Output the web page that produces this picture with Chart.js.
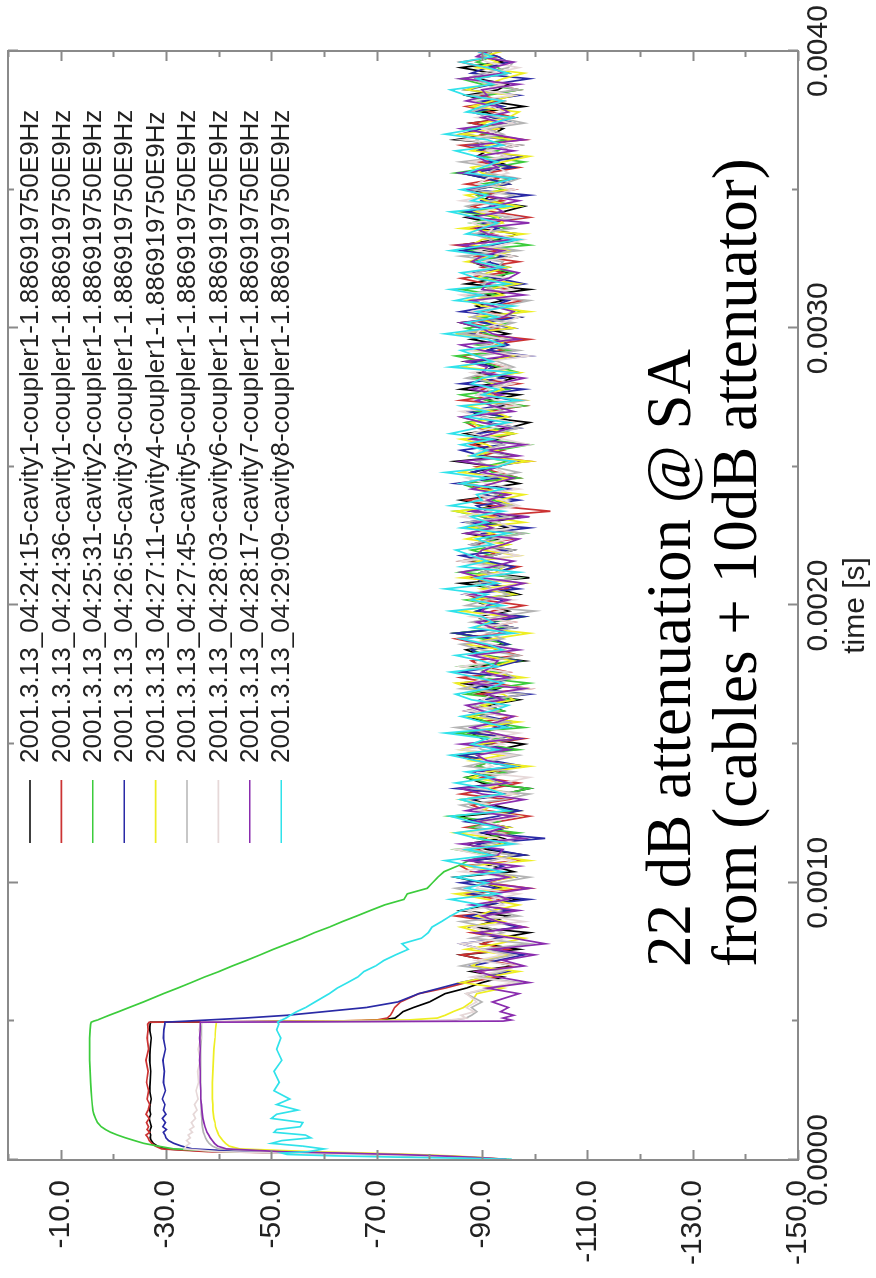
<!DOCTYPE html>
<html>
<head>
<meta charset="utf-8">
<title>Coupler signals, 2001.3.13</title>
<script src="https://cdn.jsdelivr.net/npm/chart.js@4.4.1/dist/chart.umd.min.js"></script>
<style>
  html, body { margin: 0; padding: 0; background: #fff; overflow: hidden; }
  /* the plot is laid out landscape and turned a quarter to the left */
  #wrap {
    position: absolute; left: 0; top: 0;
    width: 1278px; height: 876px;
    transform-origin: 0 0;
    transform: translateY(1278px) rotate(-90deg);
  }
</style>
</head>
<body>
<div id="wrap"><canvas id="scope" width="1278" height="876"></canvas></div>
<script>
// sample times in microseconds: fine steps around the RF pulse, then every 20 us
const timesUs = [
  0, 3, 6, 10, 15, 20, 25, 30,
  40, 50, 60, 70, 80, 90, 100, 110, 120,
  135, 150, 165, 180, 200, 220, 250, 280,
  320, 360, 400, 440, 470, 490,
  497, 501, 505, 512, 522, 535, 550, 570,
  600, 620, 640, 660, 680, 700, 720, 740, 760, 780,
  800, 820, 840, 860, 880, 900, 920, 940, 960, 980,
  1000, 1020, 1040, 1060, 1080, 1100, 1120, 1140, 1160, 1180,
  1200, 1220, 1240, 1260, 1280, 1300, 1320, 1340, 1360, 1380,
  1400, 1420, 1440, 1460, 1480, 1500, 1520, 1540, 1560, 1580,
  1600, 1620, 1640, 1660, 1680, 1700, 1720, 1740, 1760, 1780,
  1800, 1820, 1840, 1860, 1880, 1900, 1920, 1940, 1960, 1980,
  2000, 2020, 2040, 2060, 2080, 2100, 2120, 2140, 2160, 2180,
  2200, 2220, 2240, 2260, 2280, 2300, 2320, 2340, 2360, 2380,
  2400, 2420, 2440, 2460, 2480, 2500, 2520, 2540, 2560, 2580,
  2600, 2620, 2640, 2660, 2680, 2700, 2720, 2740, 2760, 2780,
  2800, 2820, 2840, 2860, 2880, 2900, 2920, 2940, 2960, 2980,
  3000, 3020, 3040, 3060, 3080, 3100, 3120, 3140, 3160, 3180,
  3200, 3220, 3240, 3260, 3280, 3300, 3320, 3340, 3360, 3380,
  3400, 3420, 3440, 3460, 3480, 3500, 3520, 3540, 3560, 3580,
  3600, 3620, 3640, 3660, 3680, 3700, 3720, 3740, 3760, 3780,
  3800, 3820, 3840, 3860, 3880, 3900, 3920, 3940, 3960, 3980,
  4000
];

const traceLabels = [
  "2001.3.13_04:24:15-cavity1-coupler1-1.886919750E9Hz",
  "2001.3.13_04:24:36-cavity1-coupler1-1.886919750E9Hz",
  "2001.3.13_04:25:31-cavity2-coupler1-1.886919750E9Hz",
  "2001.3.13_04:26:55-cavity3-coupler1-1.886919750E9Hz",
  "2001.3.13_04:27:11-cavity4-coupler1-1.886919750E9Hz",
  "2001.3.13_04:27:45-cavity5-coupler1-1.886919750E9Hz",
  "2001.3.13_04:28:03-cavity6-coupler1-1.886919750E9Hz",
  "2001.3.13_04:28:17-cavity7-coupler1-1.886919750E9Hz",
  "2001.3.13_04:29:09-cavity8-coupler1-1.886919750E9Hz"
];

// signal level in dB, one value per entry of timesUs
const cav1aDb = [
  -94, -93, -90, -86, -80, -71, -58, -40,
  -30, -28.4, -27.6, -27.2, -27, -27.1, -26.9, -27, -27.2,
  -27, -26.8, -27.1, -26.9, -27, -27.2, -26.9, -27,
  -27.1, -26.9, -27, -27.2, -26.9, -27,
  -27.1, -66, -71, -73.5, -74.2, -75, -77, -80,
  -83, -87, -90, -94, -88, -96, -91, -86, -97, -90,
  -93, -99, -88, -92, -95, -86, -91, -97, -89, -94,
  -90, -85, -96, -92, -88, -98, -91, -87, -94, -90,
  -95, -89, -86, -97, -92, -88, -94, -99, -90, -87,
  -92, -96, -89, -85, -93, -98, -90, -88, -95, -91,
  -87, -94, -91, -97, -89, -93, -86, -96, -92, -88,
  -98, -90, -87, -94, -92, -85, -96, -91, -89, -95,
  -91, -88, -97, -93, -86, -99, -90, -94, -88, -92,
  -96, -89, -93, -87, -95, -91, -98, -88, -92, -86,
  -94, -90, -97, -92, -88, -93, -85, -96, -91, -89,
  -93, -87, -95, -99, -90, -88, -94, -91, -97, -86,
  -92, -96, -89, -93, -87, -98, -91, -94, -88, -95,
  -90, -86, -97, -92, -89, -94, -91, -99, -87, -93,
  -95, -91, -88, -96, -90, -86, -93, -97, -89, -92,
  -87, -94, -98, -90, -92, -88, -95, -91, -86, -96,
  -93, -89, -91, -97, -85, -92, -94, -88, -96, -90,
  -98, -91, -87, -93, -95, -89, -92, -86, -94, -90,
  -92
];
const cav1bDb = [
  -93, -92.5, -89, -85, -78, -70, -57, -38,
  -29.2, -28, -27.3, -26.8, -26.6, -26.2, -26.9, -26.4, -26.7,
  -26.3, -26.8, -26.2, -26.6, -26.9, -26.4, -26.7, -26.3,
  -26.6, -26.2, -26.7, -26.4, -26.6, -26.5,
  -26.8, -62, -70, -72, -72.6, -73, -73.4, -74.5,
  -78, -83, -87, -93, -89, -97, -91, -86, -95, -90,
  -94, -88, -98, -92, -85, -96, -90, -93, -87, -99,
  -91, -95, -88, -86, -97, -92, -89, -94, -90, -96,
  -87, -93, -99, -91, -88, -95, -86, -92, -97, -90,
  -94, -89, -92, -85, -96, -91, -98, -88, -93, -90,
  -96, -87, -91, -94, -89, -99, -92, -86, -95, -90,
  -88, -97, -93, -90, -85, -94, -91, -96, -89, -92,
  -98, -90, -87, -95, -92, -88, -93, -97, -86, -91,
  -94, -89, -96, -91, -88, -93, -90, -103, -92, -87,
  -95, -91, -86, -97, -93, -89, -99, -90, -94, -88,
  -92, -96, -89, -87, -94, -91, -98, -86, -93, -90,
  -97, -88, -92, -95, -90, -86, -94, -91, -99, -89,
  -93, -87, -96, -90, -92, -98, -88, -95, -91, -86,
  -94, -90, -97, -89, -93, -85, -96, -92, -88, -91,
  -99, -92, -88, -94, -90, -96, -87, -93, -91, -97,
  -89, -95, -91, -86, -98, -90, -93, -88, -96, -92,
  -87, -94, -90, -97, -92, -89, -95, -91, -86, -93,
  -90
];
const cav2Db = [
  -93.5, -92, -88, -84, -78, -70, -58, -42,
  -31.5, -28.5, -25.8, -24, -22.3, -20.8, -19.5, -18.5, -17.7,
  -17, -16.6, -16.3, -16.1, -16, -15.9, -15.8, -15.7,
  -15.6, -15.5, -15.5, -15.5, -15.6, -15.7,
  -15.8, -16.3, -17, -17.9, -19.2, -21, -23, -25.7,
  -29.5, -32.2, -34.8, -37.3, -40.1, -42.6, -45.3, -47.9, -50.4, -53.1,
  -55.8, -58.2, -61, -63.5, -66.2, -68.8, -71.5, -75.2, -75.8, -79.6,
  -80.6, -81.6, -82.8, -85.3, -87.5, -91, -85, -95, -89, -97,
  -88, -93, -84, -96, -90, -86, -94, -99, -91, -87,
  -95, -89, -92, -86, -97, -90, -93, -85, -98, -91,
  -88, -94, -90, -96, -87, -92, -99, -89, -93, -86,
  -97, -91, -88, -95, -90, -85, -94, -92, -98, -89,
  -93, -87, -96, -91, -89, -97, -86, -94, -90, -92,
  -88, -95, -91, -98, -87, -93, -90, -85, -96, -92,
  -94, -89, -86, -97, -92, -90, -95, -88, -93, -99,
  -90, -96, -92, -87, -94, -89, -98, -91, -86, -95,
  -92, -88, -97, -93, -90, -85, -96, -89, -94, -91,
  -87, -95, -90, -98, -92, -88, -93, -86, -97, -90,
  -96, -91, -89, -94, -87, -99, -92, -90, -95, -88,
  -93, -86, -97, -91, -89, -94, -90, -96, -85, -92,
  -98, -90, -93, -88, -95, -91, -87, -96, -92, -89,
  -94, -88, -91, -97, -90, -86, -95, -93, -89, -92,
  -91
];
const cav3Db = [
  -94.5, -93.5, -91, -87, -81, -73, -61, -45,
  -35, -33, -31.5, -30.5, -30, -29.8, -29.5, -30.1, -29.4,
  -29.9, -29.3, -30, -29.5, -29.8, -29.3, -29.9, -29.5,
  -29.7, -29.4, -29.9, -29.5, -29.6, -29.8,
  -29.8, -34, -38, -45, -53, -60, -68, -74,
  -78, -82, -86, -91, -95, -88, -93, -98, -90, -86,
  -94, -89, -97, -92, -87, -95, -90, -99, -88, -93,
  -86, -96, -91, -94, -88, -98, -92, -89, -102, -90,
  -95, -87, -93, -97, -90, -88, -96, -85, -94, -91,
  -89, -98, -92, -86, -95, -90, -97, -88, -93, -96,
  -91, -87, -94, -90, -99, -88, -92, -96, -86, -93,
  -97, -90, -88, -95, -92, -85, -96, -91, -98, -89,
  -92, -94, -87, -97, -90, -89, -93, -96, -91, -86,
  -95, -88, -92, -90, -99, -87, -94, -91, -89, -97,
  -90, -96, -85, -93, -88, -92, -98, -90, -86, -94,
  -92, -89, -97, -91, -95, -87, -93, -96, -90, -98,
  -86, -94, -90, -92, -88, -99, -91, -95, -93, -87,
  -96, -90, -97, -86, -92, -95, -89, -91, -98, -93,
  -88, -95, -91, -94, -86, -92, -97, -89, -93, -90,
  -97, -87, -92, -90, -99, -88, -95, -91, -86, -96,
  -91, -98, -89, -93, -95, -86, -90, -96, -92, -88,
  -94, -90, -97, -87, -92, -99, -88, -91, -95, -93,
  -89
];
const cav4Db = [
  -95, -94, -92, -89, -84, -77, -68, -58,
  -44, -42, -41.3, -40.8, -40.4, -40, -39.8, -39.6, -39.4,
  -39.3, -39.1, -39, -38.9, -38.9, -38.8, -38.8, -38.8,
  -38.9, -39, -39.1, -39.3, -39.4, -39.5,
  -39.6, -60, -76, -81.5, -83, -84.5, -86.5, -88,
  -89, -94, -86, -91, -97, -88, -90, -95, -87, -93,
  -98, -90, -86, -94, -89, -92, -97, -91, -85, -95,
  -90, -96, -92, -87, -99, -91, -88, -94, -93, -85,
  -95, -89, -97, -90, -92, -86, -96, -91, -94, -88,
  -91, -99, -88, -94, -86, -90, -96, -92, -89, -97,
  -87, -93, -90, -96, -94, -88, -85, -98, -91, -92,
  -96, -90, -94, -87, -92, -99, -89, -91, -95, -86,
  -92, -88, -96, -90, -98, -86, -93, -94, -89, -97,
  -90, -95, -87, -92, -88, -98, -91, -85, -96, -93,
  -98, -89, -92, -95, -86, -90, -99, -88, -93, -91,
  -86, -96, -90, -88, -95, -92, -87, -98, -91, -94,
  -92, -90, -97, -86, -91, -96, -89, -93, -95, -85,
  -96, -92, -88, -99, -90, -87, -94, -91, -97, -89,
  -91, -95, -87, -92, -96, -88, -90, -98, -86, -94,
  -93, -89, -97, -91, -87, -95, -92, -96, -90, -88,
  -94, -99, -88, -91, -96, -86, -93, -90, -95, -97,
  -88, -92, -96, -87, -91, -94, -98, -89, -93, -90,
  -94
];
const cav5Db = [
  -94, -93, -90, -86, -80, -72, -62, -50,
  -40, -38.8, -38.2, -37.8, -37.5, -37.3, -37.1, -37, -36.9,
  -36.8, -36.8, -36.7, -36.7, -36.7, -36.6, -36.6, -36.6,
  -36.6, -36.6, -36.6, -36.7, -36.7, -36.7,
  -36.8, -80, -85, -87, -88, -89, -88, -90,
  -87, -92, -97, -89, -94, -86, -91, -96, -90, -99,
  -88, -94, -91, -86, -97, -92, -89, -95, -90, -85,
  -93, -99, -90, -88, -92, -96, -87, -91, -97, -93,
  -89, -92, -95, -90, -86, -94, -99, -88, -93, -91,
  -96, -87, -92, -97, -90, -88, -94, -92, -85, -95,
  -90, -93, -88, -92, -98, -86, -91, -96, -94, -89,
  -92, -97, -90, -86, -94, -91, -96, -88, -93, -100,
  -87, -91, -95, -92, -89, -97, -90, -94, -86, -92,
  -96, -88, -92, -98, -90, -87, -95, -91, -96, -89,
  -93, -94, -86, -91, -97, -92, -89, -95, -90, -94,
  -88, -92, -97, -90, -86, -94, -92, -98, -89, -91,
  -94, -87, -91, -96, -93, -89, -97, -90, -95, -86,
  -92, -96, -88, -91, -94, -99, -87, -92, -90, -95,
  -89, -93, -94, -86, -97, -90, -92, -88, -96, -91,
  -95, -90, -87, -92, -96, -88, -94, -97, -91, -93,
  -86, -95, -92, -90, -89, -94, -91, -98, -93, -88,
  -91, -94, -88, -97, -92, -87, -90, -95, -96, -90,
  -92
];
const cav6Db = [
  -93.5, -92, -89, -84, -76, -66, -52, -40,
  -33.5, -33.8, -34.5, -33.9, -34.6, -34.2, -35, -34.5, -35.3,
  -34.8, -35.6, -35.2, -35.9, -35.4, -36.1, -35.7, -36.2,
  -36, -36.5, -36.1, -36.6, -36.3, -36.6,
  -36.7, -78, -84, -87, -86, -88.5, -87, -89,
  -87, -91, -96, -88, -93, -97, -89, -94, -90, -86,
  -95, -92, -88, -98, -91, -87, -94, -92, -97, -89,
  -90, -95, -86, -92, -96, -90, -85, -97, -93, -88,
  -94, -91, -97, -89, -92, -86, -96, -90, -94, -99,
  -88, -92, -90, -96, -86, -94, -91, -97, -89, -93,
  -96, -87, -94, -90, -92, -99, -88, -91, -95, -86,
  -93, -89, -97, -92, -86, -95, -90, -96, -88, -94,
  -90, -96, -87, -92, -98, -89, -94, -91, -86, -97,
  -92, -90, -95, -88, -96, -93, -86, -91, -97, -94,
  -89, -97, -91, -87, -94, -92, -96, -88, -90, -99,
  -94, -88, -92, -96, -90, -86, -97, -93, -89, -91,
  -96, -92, -88, -95, -91, -99, -87, -92, -94, -89,
  -90, -94, -97, -88, -93, -90, -86, -96, -92, -95,
  -87, -92, -90, -96, -89, -94, -98, -91, -92, -88,
  -97, -90, -94, -86, -92, -96, -89, -91, -95, -93,
  -88, -95, -91, -97, -86, -93, -90, -96, -89, -94,
  -92, -88, -96, -90, -94, -87, -92, -97, -91, -89,
  -90
];
const cav7Db = [
  -94.5, -94, -92, -88, -82, -74, -63, -52,
  -41.5, -39.8, -39.2, -38.8, -38.4, -38.1, -37.8, -37.6, -37.4,
  -37.2, -37, -36.9, -36.8, -36.7, -36.6, -36.6, -36.5,
  -36.5, -36.4, -36.5, -36.4, -36.5, -36.5,
  -36.5, -94, -95.5, -94, -96, -93.5, -95, -92,
  -97, -91, -99, -93, -89, -98, -94, -100, -92, -102,
  -96, -89, -98, -93, -90, -97, -88, -95, -92, -99,
  -90, -95, -89, -97, -87, -93, -94, -86, -98, -91,
  -94, -89, -96, -87, -92, -98, -90, -86, -95, -91,
  -88, -96, -91, -89, -95, -86, -97, -92, -88, -93,
  -96, -90, -87, -94, -91, -98, -88, -95, -90, -92,
  -93, -88, -97, -90, -86, -95, -92, -89, -96, -90,
  -91, -95, -88, -93, -98, -90, -86, -92, -96, -89,
  -90, -94, -97, -87, -92, -89, -99, -88, -94, -91,
  -95, -88, -92, -96, -90, -93, -86, -97, -91, -98,
  -88, -92, -95, -90, -86, -96, -92, -89, -94, -88,
  -93, -98, -90, -91, -87, -95, -90, -86, -97, -92,
  -90, -86, -94, -96, -92, -88, -98, -90, -91, -95,
  -97, -92, -88, -90, -94, -86, -96, -91, -89, -99,
  -88, -94, -92, -97, -90, -87, -92, -96, -86, -93,
  -91, -89, -96, -88, -98, -92, -86, -94, -90, -95,
  -93, -87, -91, -90, -97, -86, -94, -92, -96, -89,
  -91
];
const cav8Db = [
  -95.5, -94, -88, -75, -62, -53, -52, -57,
  -60, -56, -50, -52, -57.5, -56.5, -50.5, -51, -55.5,
  -56, -50, -51, -55, -51, -53.5, -50.5, -51.5,
  -50.5, -52, -51, -51.8, -51, -51.4,
  -51.2, -51.5, -52, -52.8, -53.6, -54.8, -56.5, -58.3,
  -61, -62.5, -64.5, -66.4, -67.6, -69.8, -71.4, -73.6, -76, -74.8,
  -78.5, -79.8, -80.5, -82.3, -84, -86, -90, -84, -93, -87,
  -91, -85, -94, -88, -83, -92, -87, -96, -89, -85,
  -93, -88, -84, -95, -90, -86, -94, -91, -85, -92,
  -87, -96, -89, -84, -93, -88, -91, -83, -95, -90,
  -86, -92, -95, -88, -85, -91, -94, -89, -84, -93,
  -90, -85, -94, -91, -86, -96, -88, -92, -90, -84,
  -94, -88, -91, -83, -93, -89, -97, -86, -91, -88,
  -85, -92, -89, -95, -86, -91, -88, -94, -84, -90,
  -89, -94, -86, -91, -83, -93, -96, -88, -91, -86,
  -92, -84, -89, -95, -87, -91, -86, -97, -90, -93,
  -88, -90, -96, -84, -92, -89, -86, -94, -91, -83,
  -91, -87, -93, -89, -96, -85, -90, -84, -95, -89,
  -86, -94, -89, -92, -84, -91, -97, -87, -90, -93,
  -89, -84, -95, -88, -91, -86, -92, -96, -87, -90,
  -93, -89, -85, -94, -91, -83, -89, -92, -96, -87,
  -90, -94, -87, -84, -92, -89, -95, -91, -86, -92,
  -89
];

const traceValues = [cav1aDb, cav1bDb, cav2Db, cav3Db, cav4Db, cav5Db, cav6Db, cav7Db, cav8Db];
const traceColors = ["#000000", "#cc3333", "#3ccc3c", "#2a2aa6", "#eeee22",
                     "#b4b4b4", "#e6d8d8", "#8a2cae", "#30e2ea"];

const timeTickLabels = ["0.0000", "0.0010", "0.0020", "0.0030", "0.0040"];
const dbTickLabels = ["-10.0", "-30.0", "-50.0", "-70.0", "-90.0", "-110.0", "-130.0", "-150.0"];

const sansFont = '"Liberation Sans", Arial, Helvetica, sans-serif';
const serifFont = '"Liberation Serif", "Times New Roman", Times, serif';
const frameColor = "#8a8a8a";
const textColor = "#222222";

Chart.defaults.font.family = sansFont;

const datasets = traceValues.map((vals, i) => ({
  label: traceLabels[i],
  data: vals.map((db, k) => ({ x: timesUs[k] / 1e6, y: db })),
  borderColor: traceColors[i],
  borderWidth: 1.7,
  pointRadius: 0,
  tension: 0,
  fill: false,
  // later traces are painted over earlier ones
  order: traceValues.length - i
}));

// box round the plot with short inward ticks on all four sides
const frameTicks = {
  id: "frameTicks",
  afterDatasetsDraw(chart) {
    const { ctx, chartArea: a } = chart;
    const xs = chart.scales.x, ys = chart.scales.y;
    ctx.save();
    ctx.strokeStyle = frameColor;
    ctx.lineWidth = 2;
    ctx.beginPath();
    xs.ticks.forEach(t => {
      const px = Math.round(xs.getPixelForValue(t.value)) + 0.5;
      const len = t.label ? 10 : 6;
      ctx.moveTo(px, a.bottom); ctx.lineTo(px, a.bottom - len);
      ctx.moveTo(px, a.top); ctx.lineTo(px, a.top + len);
    });
    ys.ticks.forEach(t => {
      const py = Math.round(ys.getPixelForValue(t.value)) + 0.5;
      const len = t.label ? 10 : 6;
      ctx.moveTo(a.left, py); ctx.lineTo(a.left + len, py);
      ctx.moveTo(a.right, py); ctx.lineTo(a.right - len, py);
    });
    ctx.stroke();
    ctx.strokeRect(a.left, a.top, a.right - a.left, a.bottom - a.top);
    ctx.restore();
  }
};

// legend inside the plot plus the measurement note
const notes = {
  id: "notes",
  afterDraw(chart) {
    const { ctx, chartArea: a } = chart;
    ctx.save();
    ctx.font = "26px " + sansFont;
    ctx.textBaseline = "middle";
    ctx.textAlign = "left";
    chart.data.datasets.forEach((ds, i) => {
      const y = a.top + 22 + i * 31.4;
      ctx.strokeStyle = ds.borderColor;
      ctx.lineWidth = 1.6;
      ctx.beginPath();
      ctx.moveTo(a.left + 317, y);
      ctx.lineTo(a.left + 380, y);
      ctx.stroke();
      ctx.fillStyle = textColor;
      ctx.fillText(ds.label, a.left + 397, y + 1);
    });

    ctx.fillStyle = "#000";
    ctx.textBaseline = "alphabetic";
    ctx.font = "63px " + serifFont;
    ctx.fillText("22 dB attenuation @ SA", a.left + 193, a.top + 682);
    ctx.fillText("from (cables + 10dB attenuator)", a.left + 193, a.top + 748);
    ctx.restore();
  }
};

new Chart(document.getElementById("scope"), {
  type: "line",
  data: { datasets },
  options: {
    responsive: false,
    animation: false,
    events: [],
    layout: { padding: { top: 8, right: 51, left: 0, bottom: 0 } },
    plugins: {
      legend: { display: false },
      tooltip: { enabled: false }
    },
    scales: {
      x: {
        type: "linear",
        min: 0,
        max: 0.004,
        grid: { display: false, drawTicks: false },
        border: { display: false },
        ticks: {
          stepSize: 0.0005,
          autoSkip: false,
          maxRotation: 0,
          padding: 3,
          color: textColor,
          font: { size: 30 },
          callback: v => {
            const s = Number(v).toFixed(4);
            return timeTickLabels.includes(s) ? s : "";
          }
        },
        title: {
          display: true,
          text: "time [s]",
          color: textColor,
          font: { size: 30 },
          padding: { top: 0, bottom: 2 }
        },
        afterFit: s => {
          s.height = 78;
          s.paddingLeft = 0;
          s.paddingRight = 0;
        }
      },
      y: {
        type: "linear",
        min: -150,
        max: 0,
        grid: { display: false, drawTicks: false },
        border: { display: false },
        ticks: {
          stepSize: 10,
          autoSkip: false,
          padding: 20,
          color: textColor,
          font: { size: 30 },
          callback: v => {
            const s = Number(v).toFixed(1);
            return dbTickLabels.includes(s) ? s : "";
          }
        },
        afterFit: s => {
          s.width = 118;
          s.paddingTop = 0;
          s.paddingBottom = 0;
        }
      }
    }
  },
  plugins: [frameTicks, notes]
});
</script>
</body>
</html>
